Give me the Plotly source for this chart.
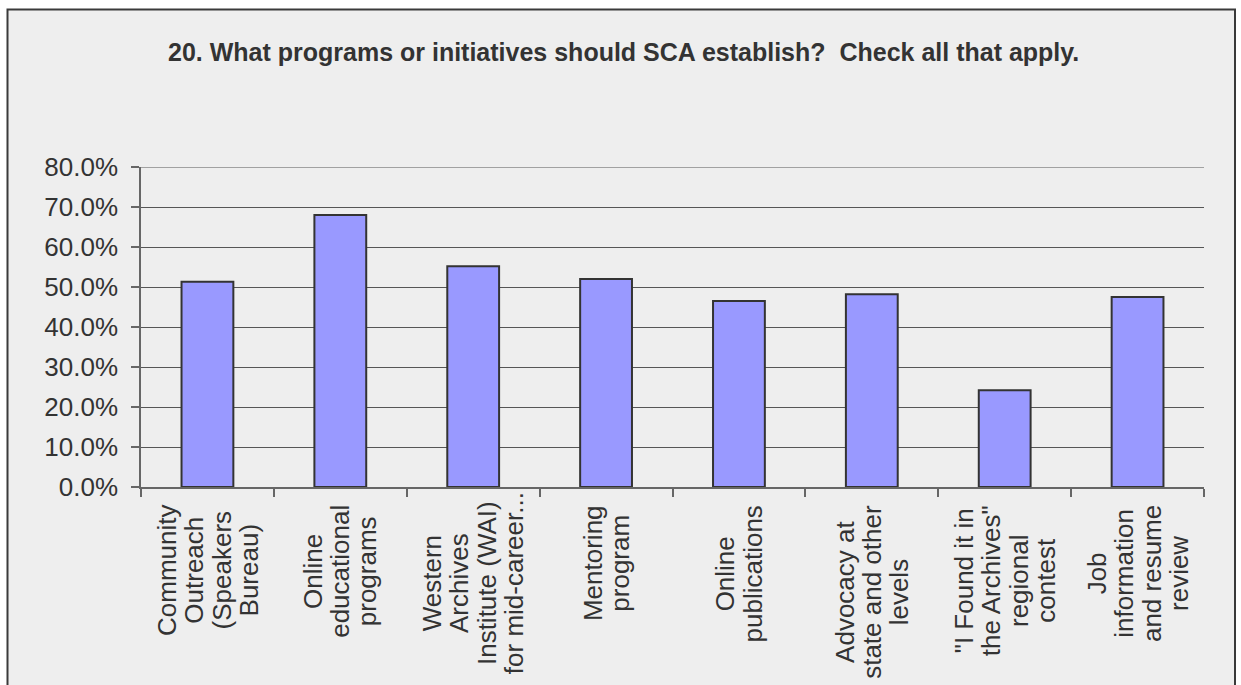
import plotly.graph_objects as go

# Survey question 20: share of respondents choosing each program
categories = [
    "Community<br>Outreach<br>(Speakers<br>Bureau)",
    "Online<br>educational<br>programs",
    "Western<br>Archives<br>Institute (WAI)<br>for mid-career...",
    "Mentoring<br>program",
    "Online<br>publications",
    "Advocacy at<br>state and other<br>levels",
    "\"I Found it in<br>the Archives\"<br>regional<br>contest",
    "Job<br>information<br>and resume<br>review",
]
values = [51.3, 68.0, 55.2, 52.0, 46.5, 48.2, 24.2, 47.5]
y_ticks = [0, 10, 20, 30, 40, 50, 60, 70, 80]
y_tick_labels = [f"{v:.1f}%" for v in y_ticks]

title = "20. What programs or initiatives should SCA establish?  Check all that apply."

W, H = 1241, 685
ML, MR, MT, MB = 141, 37, 167, 198
PW, PH = W - ML - MR, H - MT - MB


def px_x(px):
    return (px - ML) / PW


def px_y(py):
    return (H - MB - py) / PH


FONT = "Liberation Sans, Arial, sans-serif"
TEXT = "#333333"
GRID = "#555555"
AXIS = "#666666"

fig = go.Figure(
    go.Bar(
        x=categories,
        y=values,
        marker=dict(color="#9999ff", line=dict(color="#333333", width=2)),
        width=0.39,
    )
)


def label_html(cat):
    # larger glyphs inside a smaller base font keeps the lines close together
    return "<br>".join(
        f"<span style='font-size:26px'>{line}</span>" for line in cat.split("<br>")
    )


# rotated, centre-aligned category labels below the axis;
# the longest label is nudged up so it still fits above the bottom edge
annotations = []
for c in categories:
    longest = max(len(line) for line in c.split("<br>"))
    annotations.append(dict(
        x=c, xref="x", y=px_y(503), yref="paper",
        yshift=13 if longest > 16 else 0,
        text=label_html(c), textangle=-90, showarrow=False,
        xanchor="center", yanchor="top", align="center",
        font=dict(family=FONT, size=21, color=TEXT),
    ))
annotations.append(dict(
    x=px_x(623), xref="paper", y=px_y(52), yref="paper",
    text=f"<b>{title}</b>", showarrow=False, xanchor="center", yanchor="middle",
    font=dict(family=FONT, size=25, color=TEXT),
))

fig.update_layout(
    width=W, height=H,
    margin=dict(l=ML, r=MR, t=MT, b=MB, pad=0),
    paper_bgcolor="white",
    plot_bgcolor="rgba(0,0,0,0)",
    showlegend=False,
    annotations=annotations,
    shapes=[
        dict(
            type="rect", xref="paper", yref="paper", layer="below",
            x0=px_x(7.5), x1=px_x(1235), y0=px_y(720), y1=px_y(9.5),
            fillcolor="#eeeeee", line=dict(color="#3a3a3a", width=2),
        ),
        # top gridline at the end of the value range
        dict(
            type="line", xref="paper", yref="y", layer="below",
            x0=0, x1=1, y0=y_ticks[-1], y1=y_ticks[-1],
            line=dict(color=GRID, width=1),
        ),
    ],
    xaxis=dict(
        type="category",
        showticklabels=False,
        tickson="boundaries", ticks="outside", ticklen=8,
        tickcolor=AXIS, tickwidth=1.5,
        showline=True, linecolor=AXIS, linewidth=1.5,
        showgrid=False, zeroline=False,
    ),
    yaxis=dict(
        range=[0, 80],
        tickmode="array", tickvals=y_ticks, ticktext=y_tick_labels,
        ticks="outside", ticklen=8, tickcolor=AXIS, tickwidth=1.5,
        ticklabelstandoff=8,
        showline=True, linecolor=AXIS, linewidth=1.5,
        showgrid=True, gridcolor=GRID, gridwidth=1,
        zeroline=False,
        tickfont=dict(family=FONT, size=26, color=TEXT),
    ),
)

fig.write_html("out.html")
